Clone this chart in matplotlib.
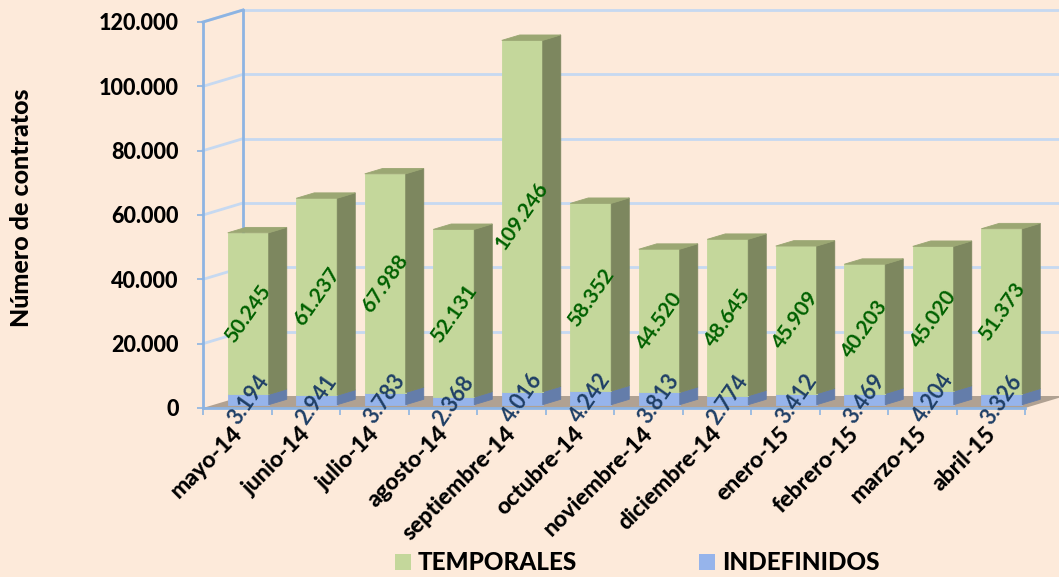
import matplotlib
matplotlib.use("Agg")
import matplotlib.pyplot as plt
from matplotlib.patches import Polygon, Rectangle

meses = ["mayo-14", "junio-14", "julio-14", "agosto-14", "septiembre-14",
         "octubre-14", "noviembre-14", "diciembre-14", "enero-15", "febrero-15",
         "marzo-15", "abril-15"]
temporales = [50245, 61237, 67988, 52131, 109246, 58352, 44520, 48645,
              45909, 40203, 45020, 51373]
indefinidos = [3194, 2941, 3783, 2368, 4016, 4242, 3813, 2774,
               3412, 3469, 4204, 3326]
y_ticks = [0, 20000, 40000, 60000, 80000, 100000, 120000]
y_label = "Número de contratos"
series = ["TEMPORALES", "INDEFINIDOS"]

W, H = 1059, 577
BG = "#FDEADA"
AXIS = "#8DB4E2"
GRID = "#C6D9F1"
GREEN = dict(front="#C4D79B", side="#7D875F", top="#9BA773")
BLUE = dict(front="#96B4EB", side="#647DAA", top="#7F9CCF")
FONT = "Lato"
HEAVY = "black"


def fmt(v):
    return f"{v:,.0f}".replace(",", ".")


fig = plt.figure(figsize=(W / 100, H / 100), dpi=100, facecolor=BG)
ax = fig.add_axes([203 / W, (H - 408) / H, 822 / W, 386 / H])
ax.set_xlim(0, len(meses))
ax.set_ylim(0, y_ticks[-1])
ax.patch.set_visible(False)

# pixel -> data factors, oblique depth offset
PX = len(meses) / 822
PY = y_ticks[-1] / 386
DX, DY = 40 * PX, 12 * PY
D0, D1 = 0.275, 0.725
BW = 41 * PX
XR = (W - 203) * PX

# walls
for v in y_ticks[1:]:
    ax.plot([DX, XR], [v + DY, v + DY], color=GRID, lw=2, clip_on=False, zorder=1)
    ax.plot([0, DX], [v, v + DY], color=GRID, lw=2, clip_on=False, zorder=1)
ax.plot([DX, DX], [DY, y_ticks[-1] + DY], color=AXIS, lw=2, clip_on=False, zorder=1)
ax.plot([0, DX], [y_ticks[-1], y_ticks[-1] + DY], color=AXIS, lw=2, clip_on=False, zorder=1)

# floor
floor = [(0, 0), (len(meses), 0), (len(meses) + DX, DY), (DX, DY)]
ax.add_patch(Polygon(floor, closed=True, fc="#A8998A", ec="none",
                     alpha=0.9, clip_on=False, zorder=2))


def block(x0, y0, y1, col, with_top):
    x1 = x0 + BW
    a, b = D0, D1
    front = [(x0 + a * DX, y0 + a * DY), (x1 + a * DX, y0 + a * DY),
             (x1 + a * DX, y1 + a * DY), (x0 + a * DX, y1 + a * DY)]
    side = [(x1 + a * DX, y0 + a * DY), (x1 + b * DX, y0 + b * DY),
            (x1 + b * DX, y1 + b * DY), (x1 + a * DX, y1 + a * DY)]
    faces = [(front, col["front"]), (side, col["side"])]
    if with_top:
        top = [(x0 + a * DX, y1 + a * DY), (x1 + a * DX, y1 + a * DY),
               (x1 + b * DX, y1 + b * DY), (x0 + b * DX, y1 + b * DY)]
        faces.append((top, col["top"]))
    for pts, c in faces:
        ax.add_patch(Polygon(pts, closed=True, fc=c, ec=c, lw=0.6,
                             clip_on=False, zorder=3))


for i, (t, d) in enumerate(zip(temporales, indefinidos)):
    x0 = i + 0.5 - BW / 2
    block(x0, 0, d, BLUE, False)
    block(x0, d, d + t, GREEN, True)
    cx = i + 0.5 + D0 * DX
    ax.text(cx, d + t / 2 + D0 * DY, fmt(t), rotation=55, ha="center", va="center",
            rotation_mode="anchor", color="#006100", fontsize=15, fontweight="bold",
            family=FONT, zorder=5, clip_on=False)
    ax.text(cx, d / 2 + D0 * DY, fmt(d), rotation=55, ha="center", va="center",
            rotation_mode="anchor", color="#1F3F66", fontsize=15.5, fontweight="bold",
            family=FONT, zorder=5, clip_on=False)

# axes
for s in ["top", "right"]:
    ax.spines[s].set_visible(False)
for s in ["left", "bottom"]:
    ax.spines[s].set_color(AXIS)
    ax.spines[s].set_linewidth(2)
    ax.spines[s].set_zorder(4)
ax.set_yticks(y_ticks)
ax.set_yticklabels([fmt(v) for v in y_ticks], family=FONT, fontweight=HEAVY, fontsize=15.5)
ax.tick_params(axis="y", length=4.5, width=1.2, color=AXIS, pad=13)
ax.set_xticks(range(len(meses) + 1))
ax.set_xticklabels([])
ax.tick_params(axis="x", length=5, width=1.2, color=AXIS)

for i, m in enumerate(meses):
    ax.annotate(m, xy=(i + 0.5, 0), xytext=(-6, -15), textcoords="offset pixels",
                rotation=45, ha="right", va="top", rotation_mode="anchor",
                fontsize=16.5, fontweight=HEAVY, family=FONT, color="black",
                annotation_clip=False)

fig.text(22 / W, 1 - 208 / H, y_label, rotation=90, ha="center", va="center",
         fontsize=18, fontweight=HEAVY, family=FONT)

# legend
for name, col, xs in [(series[0], GREEN["front"], 395), (series[1], BLUE["front"], 699)]:
    fig.patches.append(Rectangle((xs / W, 1 - 570 / H), 16 / W, 16 / H,
                                 transform=fig.transFigure, fc=col, ec="none"))
    fig.text((xs + 23) / W, 1 - 562 / H, name, ha="left", va="center",
             fontsize=17.5, fontweight=HEAVY, family=FONT)

fig.savefig("out.png", dpi=100, facecolor=BG)
